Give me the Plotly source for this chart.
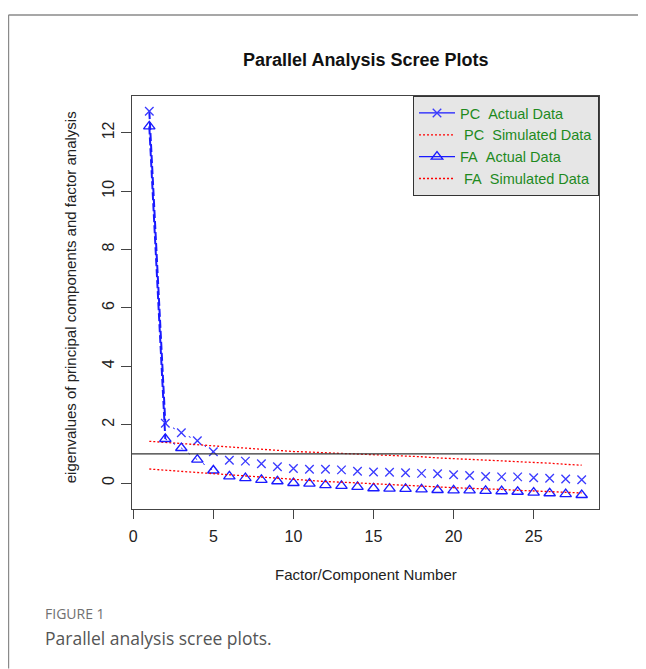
import plotly.graph_objects as go

# ---- data ----
factor_number = list(range(1, 29))
pc_actual = [12.74, 2.05, 1.72, 1.45, 1.07, 0.78, 0.75, 0.66, 0.56, 0.50, 0.47, 0.47, 0.45, 0.40,
             0.38, 0.37, 0.35, 0.33, 0.32, 0.28, 0.26, 0.22, 0.21, 0.21, 0.18, 0.16, 0.14, 0.11]
pc_simulated = [1.43, 1.39, 1.35, 1.31, 1.26, 1.23, 1.19, 1.15, 1.12, 1.08, 1.06, 1.04, 1.01, 0.98,
                0.97, 0.96, 0.94, 0.90, 0.86, 0.84, 0.82, 0.80, 0.76, 0.73, 0.71, 0.68, 0.64, 0.61]
fa_actual = [12.22, 1.51, 1.20, 0.80, 0.43, 0.23, 0.17, 0.11, 0.06, 0.00, -0.02, -0.07, -0.10, -0.13,
             -0.18, -0.19, -0.20, -0.22, -0.24, -0.25, -0.25, -0.27, -0.28, -0.30, -0.33, -0.35, -0.38, -0.41]
fa_simulated = [0.48, 0.45, 0.40, 0.36, 0.32, 0.28, 0.24, 0.20, 0.15, 0.11, 0.08, 0.05, 0.03, 0.00,
                -0.02, -0.05, -0.08, -0.12, -0.14, -0.16, -0.18, -0.19, -0.22, -0.25, -0.27, -0.30, -0.32, -0.34]
x_ticks = [0, 5, 10, 15, 20, 25]
y_ticks = [0, 2, 4, 6, 8, 10, 12]
kaiser_line = 1
# R type="b": the long first segment is fully visible, the next few only as faint bits
n_long = 2
n_faint = 5

legend_names = ["PC\u00a0\u00a0Actual Data", "\u00a0PC\u00a0\u00a0Simulated Data",
                "FA\u00a0\u00a0Actual Data", "\u00a0FA\u00a0\u00a0Simulated Data"]

OFF = 8  # page body margin
W, H = 646 - OFF, 669 - OFF
ML, MR, MT, MB = 131.7 - OFF, 46.7, 96 - OFF, 159.7
PW, PH = W - ML - MR, H - MT - MB


def px(xp):
    return (xp - OFF - ML) / PW


def py(yp):
    return (H - MB - (yp - OFF)) / PH


FONT = "Liberation Sans, Arial, sans-serif"
BLUE = "#1a1aff"
MBLUE = "#3b3bff"

fig = go.Figure()


def actual_series(values, name, symbol, size, mcolor):
    fig.add_trace(go.Scatter(x=factor_number[:n_long], y=values[:n_long], mode="lines",
                             showlegend=False, line=dict(color=BLUE, width=2, dash="8px,3px")))
    fig.add_trace(go.Scatter(x=factor_number[n_long - 1:n_faint], y=values[n_long - 1:n_faint], mode="lines",
                             showlegend=False, line=dict(color=BLUE, width=1, dash="2px,7px")))
    fig.add_trace(go.Scatter(x=factor_number, y=values, mode="markers", showlegend=False,
                             marker=dict(symbol=symbol, size=size, color=mcolor,
                                         line=dict(color=mcolor, width=1.35))))
    fig.add_trace(go.Scatter(x=[None], y=[None], mode="lines+markers", name=name,
                             line=dict(color=BLUE, width=1.2),
                             marker=dict(symbol=symbol, size=size, color=mcolor,
                                         line=dict(color=mcolor, width=1.35))))


actual_series(pc_actual, legend_names[0], "x-thin-open", 8.5, MBLUE)
fig.add_trace(go.Scatter(x=factor_number, y=pc_simulated, mode="lines", name=legend_names[1],
                         line=dict(color="red", width=1.3, dash="2px,2px")))
actual_series(fa_actual, legend_names[2], "triangle-up-open", 10, BLUE)
fig.add_trace(go.Scatter(x=factor_number, y=fa_simulated, mode="lines", name=legend_names[3],
                         line=dict(color="red", width=1.3, dash="2px,2px")))

fig.add_hline(y=kaiser_line, line=dict(color="#333333", width=1.2))

shapes = [
    dict(type="line", xref="paper", yref="paper", x0=px(8), x1=px(646), y0=py(15), y1=py(15),
         line=dict(color="#8a8a8a", width=1.5)),
    dict(type="line", xref="paper", yref="paper", x0=px(8), x1=px(8), y0=py(15), y1=py(669),
         line=dict(color="#8a8a8a", width=1.5)),
]
for s in shapes:
    fig.add_shape(**s)

annotations = [
    dict(text="<b>Parallel Analysis Scree Plots</b>", x=0.5, y=py(60), xref="paper", yref="paper",
         showarrow=False, xanchor="center", yanchor="middle", font=dict(family=FONT, size=18, color="#111")),
    dict(text="Factor/Component Number", x=0.5, y=py(575), xref="paper", yref="paper",
         showarrow=False, xanchor="center", yanchor="middle", font=dict(family=FONT, size=15, color="#222")),
    dict(text="eigenvalues of principal components and factor analysis", x=px(70), y=py(297),
         xref="paper", yref="paper", showarrow=False, textangle=-90, xanchor="center", yanchor="middle",
         font=dict(family=FONT, size=15, color="#222")),
    dict(text="FIGURE 1", x=px(43), y=py(614), xref="paper", yref="paper", showarrow=False,
         xanchor="left", yanchor="middle", font=dict(family="Open Sans, sans-serif", size=14, color="#707070")),
    dict(text="Parallel analysis scree plots.", x=px(43), y=py(638), xref="paper", yref="paper",
         showarrow=False, xanchor="left", yanchor="middle",
         font=dict(family="Open Sans, sans-serif", size=17.5, color="#555555")),
]
for a in annotations:
    fig.add_annotation(**a)

fig.update_layout(
    width=W, height=H, autosize=False,
    margin=dict(l=ML, r=MR, t=MT, b=MB, pad=0),
    paper_bgcolor="white", plot_bgcolor="white",
    font=dict(family=FONT, size=15, color="#222"),
    showlegend=True,
    legend=dict(x=1, y=1, xanchor="right", yanchor="top", bgcolor="#e6e6e6",
                bordercolor="#333333", borderwidth=1,
                font=dict(family=FONT, size=14.5, color="#1e8a1e"),
                tracegroupgap=0, itemwidth=36),
)
fig.update_xaxes(range=[-0.08, 29.08], tickvals=x_ticks, ticks="outside", ticklen=9, tickcolor="#444",
                 showline=True, linecolor="#444", linewidth=1.2, mirror=True, showgrid=False, zeroline=False,
                 ticklabelstandoff=4, tickfont=dict(size=16, color="#222"))
fig.update_yaxes(range=[-0.89, 13.26], tickvals=y_ticks, ticks="outside", ticklen=10, tickcolor="#444",
                 showline=True, linecolor="#444", linewidth=1.2, mirror=True, showgrid=False, zeroline=False,
                 tickangle=-90, ticklabelstandoff=1, tickfont=dict(size=16, color="#222"))

fig.write_html("out.html")
